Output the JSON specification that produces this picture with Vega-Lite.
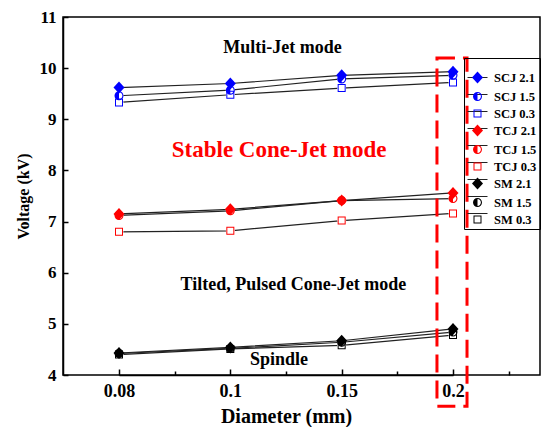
{
  "$schema": "https://vega.github.io/schema/vega-lite/v6.json",
  "width": 477,
  "height": 358,
  "autosize": "none",
  "padding": {"left": 63, "top": 17, "right": 2, "bottom": 52},
  "config": {"view": {"stroke": "black", "strokeWidth": 1.5}, "font": "Liberation Serif"},
  "datasets": {
    "voltage": [
      {"series": "SCJ 2.1", "diameter": "0.08", "voltage": 9.62},
      {"series": "SCJ 2.1", "diameter": "0.1", "voltage": 9.70},
      {"series": "SCJ 2.1", "diameter": "0.15", "voltage": 9.86},
      {"series": "SCJ 2.1", "diameter": "0.2", "voltage": 9.93},
      {"series": "SCJ 1.5", "diameter": "0.08", "voltage": 9.46},
      {"series": "SCJ 1.5", "diameter": "0.1", "voltage": 9.57},
      {"series": "SCJ 1.5", "diameter": "0.15", "voltage": 9.79},
      {"series": "SCJ 1.5", "diameter": "0.2", "voltage": 9.86},
      {"series": "SCJ 0.3", "diameter": "0.08", "voltage": 9.33},
      {"series": "SCJ 0.3", "diameter": "0.1", "voltage": 9.48},
      {"series": "SCJ 0.3", "diameter": "0.15", "voltage": 9.61},
      {"series": "SCJ 0.3", "diameter": "0.2", "voltage": 9.72},
      {"series": "TCJ 2.1", "diameter": "0.08", "voltage": 7.15},
      {"series": "TCJ 2.1", "diameter": "0.1", "voltage": 7.24},
      {"series": "TCJ 2.1", "diameter": "0.15", "voltage": 7.41},
      {"series": "TCJ 2.1", "diameter": "0.2", "voltage": 7.56},
      {"series": "TCJ 1.5", "diameter": "0.08", "voltage": 7.12},
      {"series": "TCJ 1.5", "diameter": "0.1", "voltage": 7.21},
      {"series": "TCJ 1.5", "diameter": "0.15", "voltage": 7.41},
      {"series": "TCJ 1.5", "diameter": "0.2", "voltage": 7.45},
      {"series": "TCJ 0.3", "diameter": "0.08", "voltage": 6.80},
      {"series": "TCJ 0.3", "diameter": "0.1", "voltage": 6.82},
      {"series": "TCJ 0.3", "diameter": "0.15", "voltage": 7.02},
      {"series": "TCJ 0.3", "diameter": "0.2", "voltage": 7.16},
      {"series": "SM 2.1", "diameter": "0.08", "voltage": 4.43},
      {"series": "SM 2.1", "diameter": "0.1", "voltage": 4.54},
      {"series": "SM 2.1", "diameter": "0.15", "voltage": 4.67},
      {"series": "SM 2.1", "diameter": "0.2", "voltage": 4.90},
      {"series": "SM 1.5", "diameter": "0.08", "voltage": 4.42},
      {"series": "SM 1.5", "diameter": "0.1", "voltage": 4.52},
      {"series": "SM 1.5", "diameter": "0.15", "voltage": 4.64},
      {"series": "SM 1.5", "diameter": "0.2", "voltage": 4.84},
      {"series": "SM 0.3", "diameter": "0.08", "voltage": 4.40},
      {"series": "SM 0.3", "diameter": "0.1", "voltage": 4.51},
      {"series": "SM 0.3", "diameter": "0.15", "voltage": 4.58},
      {"series": "SM 0.3", "diameter": "0.2", "voltage": 4.78}
    ],
    "modes": [
      {"text": "Multi-Jet mode", "xf": 0.46, "v": 10.39},
      {"text": "Tilted, Pulsed Cone-Jet mode", "xf": 0.483, "v": 5.76},
      {"text": "Spindle", "xf": 0.453, "v": 4.29}
    ],
    "stable": [
      {"text": "Stable Cone-Jet mode", "xf": 0.453, "v": 8.40}
    ],
    "highlight": [
      {"x1": 0.784, "x2": 0.847, "top": 10.2, "bottom": 3.39}
    ]
  },
  "resolve": {"scale": {"x": "independent"}, "axis": {"x": "independent"}},
  "layer": [
    {
      "data": {"name": "voltage"},
      "layer": [
        {
          "mark": {"type": "line", "strokeWidth": 1.2},
          "encoding": {
            "x": {
              "field": "diameter", "type": "ordinal", "sort": ["0.08", "0.1", "0.15", "0.2"],
              "scale": {"type": "point", "range": [56, 390], "padding": 0},
              "axis": {
                "title": "Diameter (mm)", "titleFont": "Liberation Serif", "titleFontSize": 20,
                "titleFontWeight": "bold", "titleColor": "black", "titlePadding": 6,
                "labelFont": "Liberation Serif", "labelFontSize": 18, "labelFontWeight": "bold",
                "labelColor": "black", "labelAngle": 0, "labelPadding": 13,
                "tickSize": -6, "tickColor": "black", "tickWidth": 1.5,
                "domainColor": "black", "domainWidth": 1.5, "grid": false
              }
            },
            "y": {
              "field": "voltage", "type": "quantitative",
              "scale": {"domain": [4, 11], "nice": false, "zero": false},
              "axis": {
                "title": "Voltage (kV)", "titleFont": "Liberation Serif", "titleFontSize": 16,
                "titleFontWeight": "bold", "titleColor": "black", "titlePadding": 8,
                "values": [4, 4.5, 5, 5.5, 6, 6.5, 7, 7.5, 8, 8.5, 9, 9.5, 10, 10.5, 11],
                "labelExpr": "datum.value % 1 === 0 ? datum.label : ''",
                "labelFont": "Liberation Serif", "labelFontSize": 17, "labelFontWeight": "bold",
                "labelColor": "black", "labelPadding": 12,
                "tickSize": -5, "tickColor": "black", "tickWidth": 1.5,
                "domainColor": "black", "domainWidth": 1.5, "grid": false
              }
            },
            "color": {
              "field": "series", "type": "nominal",
              "scale": {
                "domain": ["SCJ 2.1", "SCJ 1.5", "SCJ 0.3", "TCJ 2.1", "TCJ 1.5", "TCJ 0.3", "SM 2.1", "SM 1.5", "SM 0.3", "-"],
                "range": ["#222", "#222", "#222", "#222", "#222", "#222", "#222", "#222", "#222", "#222"]
              },
              "legend": {
                "values": ["SCJ 2.1", "SCJ 1.5", "SCJ 0.3", "TCJ 2.1", "TCJ 1.5", "TCJ 0.3", "SM 2.1", "SM 1.5", "SM 0.3"],
                "labelExpr": "'       '",
                "orient": "none", "legendX": 401, "legendY": 41, "title": " ", "titleFontSize": 4, "titlePadding": 2,
                "symbolType": "stroke", "symbolSize": 400, "symbolStrokeWidth": 1, "symbolStrokeColor": "black",
                "labelFont": "Liberation Serif", "labelFontSize": 12.5, "labelFontWeight": "bold",
                "labelColor": "black", "labelOffset": 6, "padding": 3, "rowPadding": 0,
                "fillColor": "transparent"
              }
            }
          }
        },
        {
          "mark": {"type": "point", "filled": true, "fill": "white", "size": 80, "opacity": 1, "strokeWidth": 0},
          "encoding": {
            "x": {"field": "diameter", "type": "ordinal", "sort": ["0.08", "0.1", "0.15", "0.2"]},
            "y": {"field": "voltage", "type": "quantitative", "scale": {"domain": [4, 11], "nice": false, "zero": false}}
          }
        },
        {
          "mark": {"type": "point", "filled": true, "size": 400, "opacity": 1, "strokeWidth": 0},
          "encoding": {
            "x": {"field": "diameter", "type": "ordinal", "sort": ["0.08", "0.1", "0.15", "0.2"]},
            "y": {"field": "voltage", "type": "quantitative", "scale": {"domain": [4, 11], "nice": false, "zero": false}},
            "fill": {
              "field": "series", "type": "nominal",
              "scale": {
                "domain": ["SCJ 2.1", "SCJ 1.5", "SCJ 0.3", "TCJ 2.1", "TCJ 1.5", "TCJ 0.3", "SM 2.1", "SM 1.5", "SM 0.3"],
                "range": ["#0000ff", "#0000ff", "#0000ff", "#ff0000", "#ff0000", "#ff0000", "#000000", "#000000", "#000000"]
              },
              "legend": {
                "orient": "none", "legendX": 401, "legendY": 41, "title": " ", "titleFontSize": 4, "titlePadding": 2,
                "symbolSize": 400, "symbolStrokeWidth": 1, "symbolStrokeColor": "transparent", "symbolOpacity": 1,
                "labelFont": "Liberation Serif", "labelFontSize": 12.5, "labelFontWeight": "bold",
                "labelColor": "black", "labelOffset": 6, "padding": 3, "rowPadding": 0,
                "strokeColor": "black", "fillColor": "transparent"
              }
            },
            "shape": {
              "field": "series", "type": "nominal",
              "scale": {
                "domain": ["SCJ 2.1", "SCJ 1.5", "SCJ 0.3", "TCJ 2.1", "TCJ 1.5", "TCJ 0.3", "SM 2.1", "SM 1.5", "SM 0.3"],
                "range": [
                  "M0,-0.6L0.55,0L0,0.6L-0.55,0Z",
                  "M0,-0.45A0.45,0.45 0 0,1 0,0.45A0.45,0.45 0 0,1 0,-0.45ZM0,-0.34L0,0.34A0.34,0.34 0 0,0 0,-0.34Z",
                  "M-0.4,-0.4L0.4,-0.4L0.4,0.4L-0.4,0.4ZM-0.3,-0.3L-0.3,0.3L0.3,0.3L0.3,-0.3Z",
                  "M0,-0.6L0.55,0L0,0.6L-0.55,0Z",
                  "M0,-0.45A0.45,0.45 0 0,1 0,0.45A0.45,0.45 0 0,1 0,-0.45ZM0,-0.34L0,0.34A0.34,0.34 0 0,0 0,-0.34Z",
                  "M-0.4,-0.4L0.4,-0.4L0.4,0.4L-0.4,0.4ZM-0.3,-0.3L-0.3,0.3L0.3,0.3L0.3,-0.3Z",
                  "M0,-0.6L0.55,0L0,0.6L-0.55,0Z",
                  "M0,-0.45A0.45,0.45 0 0,1 0,0.45A0.45,0.45 0 0,1 0,-0.45ZM0,-0.34L0,0.34A0.34,0.34 0 0,0 0,-0.34Z",
                  "M-0.4,-0.4L0.4,-0.4L0.4,0.4L-0.4,0.4ZM-0.3,-0.3L-0.3,0.3L0.3,0.3L0.3,-0.3Z"
                ]
              },
              "legend": {
                "orient": "none", "legendX": 401, "legendY": 41, "title": " ", "titleFontSize": 4, "titlePadding": 2,
                "symbolSize": 400, "symbolStrokeWidth": 1, "symbolStrokeColor": "transparent", "symbolOpacity": 1,
                "labelFont": "Liberation Serif", "labelFontSize": 12.5, "labelFontWeight": "bold",
                "labelColor": "black", "labelOffset": 6, "padding": 3, "rowPadding": 0,
                "strokeColor": "black", "fillColor": "transparent"
              }
            }
          }
        }
      ]
    },
    {
      "layer": [
        {
          "data": {"name": "highlight"},
          "mark": {"type": "rect", "fillOpacity": 0, "stroke": "#ff0000", "strokeWidth": 3, "strokeDash": [18, 8]},
          "encoding": {
            "x": {
              "field": "x1", "type": "quantitative", "scale": {"domain": [0, 1], "nice": false, "zero": false},
              "axis": {
                "orient": "bottom", "values": [0.2341, 0.4675, 0.701, 0.9344], "labels": false, "domain": false,
                "title": null, "tickSize": -4, "tickColor": "black", "tickWidth": 1.5, "grid": false
              }
            },
            "x2": {"field": "x2"},
            "y": {"field": "top", "type": "quantitative", "scale": {"domain": [4, 11], "nice": false, "zero": false}},
            "y2": {"field": "bottom"}
          }
        },
        {
          "data": {"name": "modes"},
          "mark": {"type": "text", "font": "Liberation Serif", "fontWeight": "bold", "fontSize": 18, "color": "black", "align": "center", "baseline": "middle"},
          "encoding": {
            "x": {"field": "xf", "type": "quantitative", "scale": {"domain": [0, 1], "nice": false, "zero": false}},
            "y": {"field": "v", "type": "quantitative", "scale": {"domain": [4, 11], "nice": false, "zero": false}},
            "text": {"field": "text"}
          }
        },
        {
          "data": {"name": "stable"},
          "mark": {"type": "text", "font": "Liberation Serif", "fontWeight": "bold", "fontSize": 23, "color": "#ff0000", "align": "center", "baseline": "middle"},
          "encoding": {
            "x": {"field": "xf", "type": "quantitative", "scale": {"domain": [0, 1], "nice": false, "zero": false}},
            "y": {"field": "v", "type": "quantitative", "scale": {"domain": [4, 11], "nice": false, "zero": false}},
            "text": {"field": "text"}
          }
        }
      ]
    }
  ]
}
